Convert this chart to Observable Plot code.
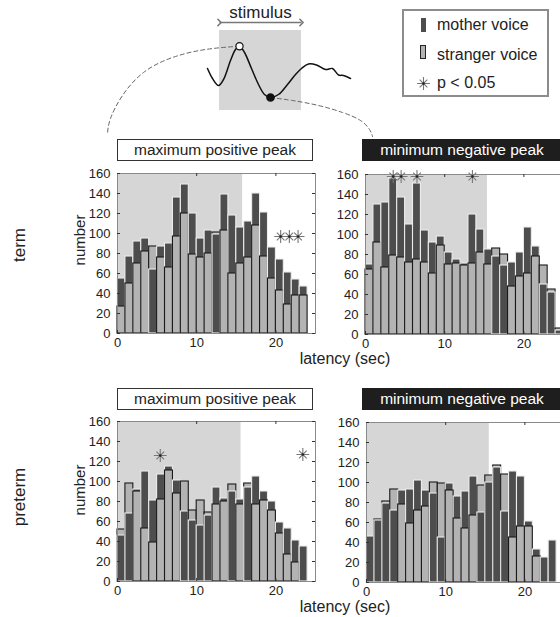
<!DOCTYPE html>
<html><head><meta charset="utf-8">
<script src="https://cdn.jsdelivr.net/npm/d3@7"></script>
<script src="https://cdn.jsdelivr.net/npm/@observablehq/plot@0.6"></script>
<style>
html,body{margin:0;padding:0;background:#fff;overflow:hidden;width:560px;height:617px;}
body{position:relative;font-family:"Liberation Sans",Arial,Helvetica,sans-serif;color:#222;}
.abs{position:absolute;}
.tbox{position:absolute;box-sizing:border-box;height:22px;font-size:15.5px;line-height:19px;text-align:center;white-space:nowrap;}
.rot{position:absolute;transform:translate(-50%,-50%) rotate(-90deg);white-space:nowrap;}
.ctr{position:absolute;transform:translate(-50%,-50%);white-space:nowrap;}
</style></head><body>
<script>
// ---------- data ----------
const bins = 25; // latency axis 0..25 s, 1-s bins
const termPosMother   = [55,77,92,95,64,87,90,136,149,120,95,103,99,139,118,106,112,140,121,86,74,61,54,47];
const termPosStranger = [27,50,70,82,87,76,66,97,120,79,76,80,101,103,60,70,76,108,77,55,43,29,38,38];
const termNegMother   = [70,130,132,156,137,110,151,104,92,98,82,75,71,120,105,85,78,69,72,82,107,88,50,42,4];
const termNegStranger = [65,92,67,79,77,72,75,72,61,89,70,71,69,71,82,70,86,80,48,58,61,78,69,45,6];
const pretermPosMother   = [46,68,92,110,81,107,115,101,70,61,56,66,94,83,90,82,94,105,90,80,59,53,41,35];
const pretermPosStranger = [52,98,90,53,39,82,111,88,100,71,81,69,77,80,97,77,98,77,81,71,48,27,19,0];
const pretermNegMother   = [46,62,79,72,92,93,102,92,89,45,99,86,91,106,70,100,115,71,111,106,61,33,25,42];
const pretermNegStranger = [0,63,81,93,78,59,72,76,100,99,92,64,54,67,97,107,117,108,45,56,56,26,0,0];
// significant bins (p < 0.05): [latency, height]
const termPosSig = [[20.6,97],[21.7,97],[22.8,97]];
const termNegSig = [[3.5,158],[4.5,158],[6.5,158],[13.5,158]];
const pretermPosSig = [[5.4,126],[23.4,127]];
const pretermNegSig = [];
const stimulusEnd = [15.8, 15.4, 15.6, 15.5];
const yTicks = [0,20,40,60,80,100,120,140,160];
const xTicks = [0,10,20];
const panelTitles = ["maximum positive peak","minimum negative peak"];
const rowLabels = ["term","preterm"];
const legendLabels = ["mother voice","stranger voice","p < 0.05"];

// schematic waveform of the stimulus illustration (page pixel units)
const waveform = [[207,68],[212,78],[218,85],[223,79],[230,60],[235,49],[239,45.7],[244,52],[251,68],[258,84],[264,94],[270,97],[278,94],[287,84],[295,74],[301,68],[308,63.5],[316,64.5],[325,69],[332,68],[338,74.5],[343,75],[350,78]];
const dashLeft = [[239,45.7],[205,49],[172,57],[143,72],[122,95],[110,118],[107,133]];
const dashRight = [[270,97],[292,100],[318,105],[342,112],[360,120],[369,129],[372,136]];

const MOTHER = "#4d4d4d", STRANGER = "#b3b3b3", SHADE = "#d6d6d6";
const FONT = '"Liberation Sans",Arial,Helvetica,sans-serif';

function add(el){ document.body.appendChild(el); return el; }
function div(cls, html, css){ const d=document.createElement("div"); d.className=cls; d.innerHTML=html; Object.assign(d.style, css); return add(d); }

function starMarks(data, r){
  return [
    Plot.dot(data, {x:d=>d[0], y:d=>d[1], symbol:"plus", r:r, stroke:"#777", strokeWidth:1.1}),
    Plot.dot(data, {x:d=>d[0], y:d=>d[1], symbol:"times", r:r*0.85, stroke:"#777", strokeWidth:1.1}),
    Plot.dot(data, {x:d=>d[0], y:d=>d[1], r:1.2, fill:"#222"})
  ];
}

const ML=45, MR=15, MT=10, MB=30, FW=198, FH=160;
function panel(mother, stranger, sig, stimEnd, fx, fy){
  const rows = [];
  mother.forEach((m,i)=>{
    const s = stranger[i];
    const a = {x1:i, x2:i+1, v:m, fill:MOTHER, stroke:"#ececec"};
    const b = {x1:i, x2:i+1, v:s, fill:STRANGER, stroke:"#1a1a1a"};
    (m >= s ? [a,b] : [b,a]).forEach(r => { if (r.v > 0) rows.push(r); });
  });
  const svg = Plot.plot({
    width: ML+FW+MR, height: MT+FH+MB,
    marginLeft: ML, marginRight: MR, marginTop: MT, marginBottom: MB,
    x: {domain:[0,bins], axis:null},
    y: {domain:[0,160], axis:null},
    color: {type:"identity"},
    style: {fontFamily: FONT, fontSize:"13px", color:"#222", background:"transparent", overflow:"visible"},
    marks: [
      Plot.rect([{a:0,b:stimEnd}], {x1:"a", x2:"b", y1:0, y2:160, fill:SHADE}),
      Plot.rect(rows, {x1:"x1", x2:"x2", y1:0, y2:"v", fill:"fill", stroke:"stroke", strokeWidth:1.1}),
      Plot.frame({stroke:"#8a8a8a"}),
      Plot.ruleX(xTicks.filter(t=>t>0), {x:d=>d, y1:160, y2:157, stroke:"#333"}),
      Plot.ruleX(xTicks, {x:d=>d, y1:0, y2:3, stroke:"#333"}),
      Plot.ruleY(yTicks, {y:d=>d, x1:0, x2:0.38, stroke:"#333"}),
      Plot.ruleY(yTicks, {y:d=>d, x1:bins, x2:bins-0.38, stroke:"#333"}),
      ...starMarks(sig, 4.2),
      Plot.axisY(yTicks, {tickSize:0, tickPadding:7, label:null, fontSize:13}),
      Plot.axisX(xTicks, {tickSize:0, tickPadding:4, label:null, fontSize:13})
    ]
  });
  svg.style.position="absolute"; svg.style.left=(fx-ML)+"px"; svg.style.top=(fy-MT)+"px";
  add(svg);
}

panel(termPosMother, termPosStranger, termPosSig, stimulusEnd[0], 117, 173);
panel(termNegMother, termNegStranger, termNegSig, stimulusEnd[1], 364.5, 174);
panel(pretermPosMother, pretermPosStranger, pretermPosSig, stimulusEnd[2], 116.5, 421);
panel(pretermNegMother, pretermNegStranger, pretermNegSig, stimulusEnd[3], 366, 421.5);

// panel titles
[139,388].forEach(top=>{
  div("tbox", panelTitles[0], {left:"117px", top:top+"px", width:"196px", border:"1.3px solid #333", background:"#fff"});
  div("tbox", panelTitles[1], {left:"362px", top:top+"px", width:"200px", border:"1.3px solid #1e1e1e", background:"#1e1e1e", color:"#fff"});
});
// row labels and axis labels
div("rot", rowLabels[0], {left:"20px", top:"245px", fontSize:"17px"});
div("rot", rowLabels[1], {left:"20px", top:"497px", fontSize:"17px"});
div("rot", "number", {left:"79px", top:"240px", fontSize:"15px"});
div("rot", "number", {left:"79px", top:"490px", fontSize:"15px"});
div("ctr", "latency (sec)", {left:"345px", top:"359px", fontSize:"16px"});
div("ctr", "latency (sec)", {left:"345px", top:"607px", fontSize:"16px"});

// stimulus illustration
const ill = Plot.plot({
  width:560, height:140, margin:0,
  x:{domain:[0,560], range:[0,560], axis:null},
  y:{domain:[0,140], range:[0,140], axis:null},
  style:{background:"transparent", fontFamily:FONT, overflow:"visible"},
  marks:[
    Plot.rect([{a:219,b:301,c:30,d:110}], {x1:"a",x2:"b",y1:"c",y2:"d", fill:SHADE}),
    Plot.line(dashLeft, {x:d=>d[0], y:d=>d[1], curve:"natural", stroke:"#666", strokeWidth:1, strokeDasharray:"4,3"}),
    Plot.line(dashRight, {x:d=>d[0], y:d=>d[1], curve:"natural", stroke:"#666", strokeWidth:1, strokeDasharray:"4,3"}),
    Plot.line(waveform, {x:d=>d[0], y:d=>d[1], curve:"catmull-rom", stroke:"#111", strokeWidth:1.5}),
    Plot.dot([waveform[6]], {x:d=>d[0], y:d=>d[1], r:3.6, fill:"#fff", stroke:"#111", strokeWidth:1.2}),
    Plot.dot([waveform[11]], {x:d=>d[0], y:d=>d[1], r:3.6, fill:"#111", stroke:"#111"}),
    Plot.link([{a:219,b:301,y:22}], {x1:"a", x2:"b", y1:"y", y2:"y", stroke:"#777", strokeWidth:1.6, markerStart:"arrow", markerEnd:"arrow"}),
    Plot.text(["stimulus"], {x:260, y:12, text:d=>d, fontSize:17, fill:"#222"})
  ]
});
ill.style.position="absolute"; ill.style.left="0px"; ill.style.top="0px";
add(ill);

// legend
div("abs", "", {left:"402px", top:"9px", width:"147px", height:"88px", boxSizing:"border-box", border:"2.5px solid #8c8c8c", background:"#fff"});
div("abs", "", {left:"421px", top:"18px", width:"5px", height:"14px", background:MOTHER});
div("abs", "", {left:"420px", top:"45px", width:"6px", height:"14px", boxSizing:"border-box", background:STRANGER, border:"1px solid #222"});
const lg = Plot.plot({
  width:20, height:20, margin:0,
  x:{domain:[0,20], range:[0,20], axis:null},
  y:{domain:[0,20], range:[0,20], axis:null},
  style:{background:"transparent", overflow:"visible"},
  marks: starMarks([[10,10]], 4.2)
});
lg.style.position="absolute"; lg.style.left="413px"; lg.style.top="73px";
add(lg);
div("abs", legendLabels[0], {left:"437px", top:"15px", fontSize:"16px", lineHeight:"20px"});
div("abs", legendLabels[1], {left:"437px", top:"45px", fontSize:"16px", lineHeight:"20px"});
div("abs", legendLabels[2], {left:"437px", top:"73px", fontSize:"16px", lineHeight:"20px"});
</script>
</body></html>
